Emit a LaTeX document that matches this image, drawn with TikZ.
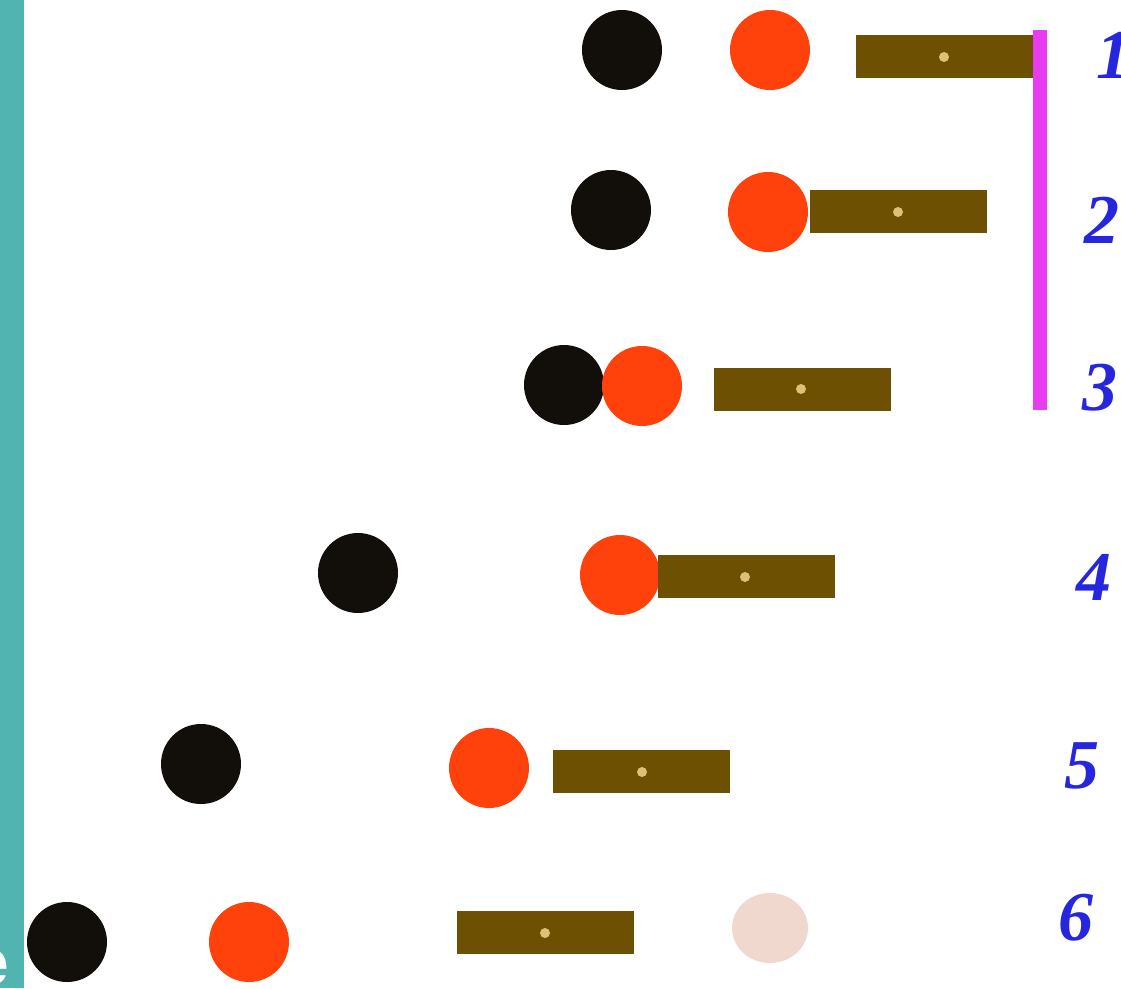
\documentclass[tikz,border=0pt]{standalone}
\usepackage{fontspec}
\usetikzlibrary{shapes.geometric}
\setmainfont{Liberation Serif}
\newfontfamily\labsans{Liberation Sans}
\definecolor{tealbar}{RGB}{82,180,176}
\definecolor{ballblack}{RGB}{18,14,10}
\definecolor{ballred}{RGB}{255,66,12}
\definecolor{barbrown}{RGB}{110,80,2}
\definecolor{bardot}{RGB}{222,192,120}
\definecolor{magline}{RGB}{232,60,240}
\definecolor{palepink}{RGB}{240,216,206}
\definecolor{numblue}{RGB}{38,38,222}
\tikzset{
  blackball/.style={circle,fill=ballblack,inner sep=0pt,minimum size=80pt},
  redball/.style={circle,fill=ballred,inner sep=0pt,minimum size=80pt},
  rodbar/.style={rectangle,fill=barbrown,inner sep=0pt,minimum width=177pt,minimum height=43pt},
  roddot/.style={circle,fill=bardot,inner sep=0pt,minimum size=10pt},
  numlab/.style={anchor=west,inner sep=0pt,text=numblue,font=\fontsize{70}{70}\selectfont\bfseries\itshape}
}
\begin{document}
\begin{tikzpicture}[x=1pt,y=-1pt]
\useasboundingbox (0,0) rectangle (1121,988);
\clip (0,0) rectangle (1121,988);
\fill[white] (0,0) rectangle (1121,988);
% teal side bar
\fill[tealbar] (0,0) rectangle (24,988);
\node[anchor=south east,inner sep=0pt,text=white,font=\labsans\bfseries\fontsize{64}{64}\selectfont] (e) at (9,985) {e};
% row 1
\node[blackball] (b1) at (622,50) {};
\node[redball] (r1) at (770,50) {};
\node[rodbar] (bar1) at (944,56) {};
\node[roddot] (d1) at (944,57) {};
% magenta line
\fill[magline] (1033,30) rectangle (1047,410);
% row 2
\node[blackball] (b2) at (611,210) {};
\node[redball] (r2) at (768,212) {};
\node[rodbar] (bar2) at (898,211) {};
\node[roddot] (d2) at (898,212) {};
% row 3
\node[blackball] (b3) at (564,385) {};
\node[redball] (r3) at (642,386) {};
\node[rodbar] (bar3) at (802,389) {};
\node[roddot] (d3) at (801,389) {};
% row 4
\node[blackball] (b4) at (358,573) {};
\node[redball] (r4) at (620,575) {};
\node[rodbar] (bar4) at (746,576) {};
\node[roddot] (d4) at (745,577) {};
% row 5
\node[blackball] (b5) at (201,764) {};
\node[redball] (r5) at (489,768) {};
\node[rodbar] (bar5) at (641,771) {};
\node[roddot] (d5) at (642,772) {};
% row 6
\node[blackball] (b6) at (67,942) {};
\node[redball] (r6) at (249,942) {};
\node[rodbar] (bar6) at (545,932) {};
\node[roddot] (d6) at (545,933) {};
\node[ellipse,fill=palepink,inner sep=0pt,minimum width=76pt,minimum height=70pt] (p6) at (770,928) {};
% labels
\node[numlab] (n1) at (1096,55) {1};
\node[numlab] (n2) at (1084,220) {2};
\node[numlab] (n3) at (1082,388) {3};
\node[numlab] (n4) at (1076,577) {4};
\node[numlab] (n5) at (1064,766) {5};
\node[numlab] (n6) at (1058,918) {6};
\end{tikzpicture}
\end{document}
